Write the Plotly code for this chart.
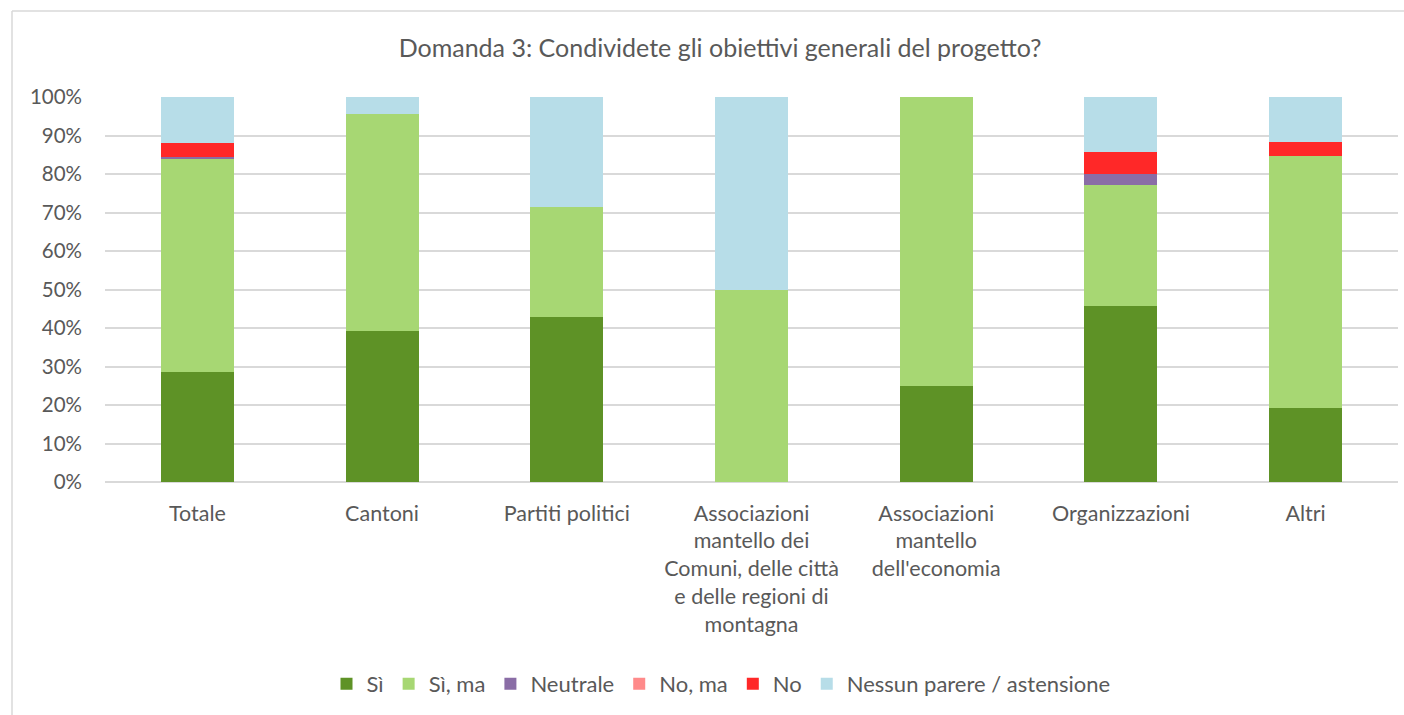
import plotly.graph_objects as go

# categories (x axis)
categorie = [
    "Totale",
    "Cantoni",
    "Partiti politici",
    "Associazioni<br>mantello dei<br>Comuni, delle città<br>e delle regioni di<br>montagna",
    "Associazioni<br>mantello<br>dell'economia",
    "Organizzazioni",
    "Altri",
]

# shares in percent
si = [28.6, 39.1, 42.9, 0.0, 25.0, 45.7, 19.2]
si_ma = [55.2, 56.5, 28.6, 50.0, 75.0, 31.4, 65.4]
neutrale = [0.6, 0.0, 0.0, 0.0, 0.0, 2.9, 0.0]
no_ma = [0.0, 0.0, 0.0, 0.0, 0.0, 0.0, 0.0]
no = [3.6, 0.0, 0.0, 0.0, 0.0, 5.7, 3.8]
nessun = [12.0, 4.4, 28.5, 50.0, 0.0, 14.3, 11.6]

serie = [
    ("Sì", si, "#5E9226"),
    ("Sì, ma", si_ma, "#A7D773"),
    ("Neutrale", neutrale, "#8A6DA6"),
    ("No, ma", no_ma, "#FF8A8A"),
    ("No", no, "#FF2828"),
    ("Nessun parere / astensione", nessun, "#B7DDE8"),
]

tick_vals = list(range(0, 101, 10))
tick_text = [f"{v}%" for v in tick_vals]

fig = go.Figure()
for nome, valori, colore in serie:
    fig.add_trace(go.Bar(
        x=categorie, y=valori, name=nome,
        marker=dict(color=colore, line=dict(width=0)),
    ))

W, H = 1404, 715
L, R, T, B = 105, 6, 97, 233
pw, ph = W - L - R, H - T - B

font_col = "#595959"
fig.update_layout(
    barmode="stack",
    bargap=0.605,
    width=W, height=H,
    paper_bgcolor="white", plot_bgcolor="white",
    font=dict(family="Lato, 'Open Sans', sans-serif", size=21, color=font_col),
    margin=dict(l=L, r=R, t=T, b=B),
    title=dict(
        text="Domanda 3: Condividete gli obiettivi generali del progetto?",
        x=720 / W, xanchor="center", y=1 - 48 / H, yanchor="middle",
        font=dict(size=25, color=font_col),
    ),
    legend=dict(
        orientation="h", x=(721 - L) / pw, xanchor="center",
        y=(H - B - 684) / ph, yanchor="middle",
        font=dict(size=22, color=font_col), traceorder="normal",
        itemwidth=30,
    ),
    showlegend=True,
)
fig.update_yaxes(
    range=[0, 100], tickvals=tick_vals, ticktext=tick_text,
    showgrid=True, gridcolor="#D9D9D9", gridwidth=1.5,
    zeroline=True, zerolinecolor="#D9D9D9", zerolinewidth=1.5,
    ticks="", ticklabelstandoff=22,
    tickfont=dict(size=20.5, color=font_col),
)
fig.update_xaxes(
    showline=False, ticks="", tickangle=0, ticklabelstandoff=16,
    tickfont=dict(size=21.5, color=font_col),
)

# light frame of the chart area: only left and top edges fall inside the crop
fx0 = (12 - L) / pw
fy1 = (H - B - 11) / ph
frame = dict(color="#D9D9D9", width=1.5)
fig.add_shape(type="line", xref="paper", yref="paper",
              x0=fx0, x1=fx0, y0=(H - B - H - 20) / ph, y1=fy1, line=frame)
fig.add_shape(type="line", xref="paper", yref="paper",
              x0=fx0, x1=(W + 20 - L) / pw, y0=fy1, y1=fy1, line=frame)

# drop the default page margin so the figure fills the window exactly
fig.write_html(
    "out.html",
    config={"displayModeBar": False},
    post_script="document.body.style.margin='0';document.body.style.overflow='hidden';",
)
